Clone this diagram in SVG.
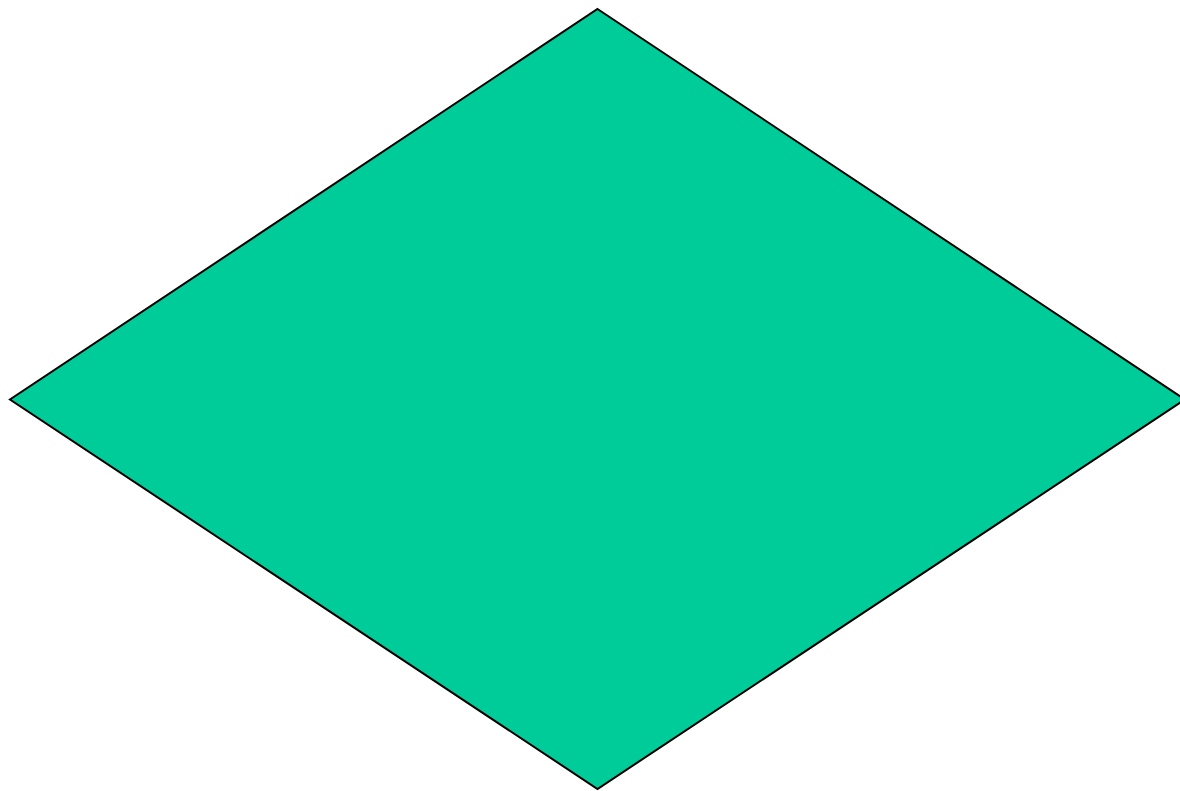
<svg xmlns="http://www.w3.org/2000/svg" width="1180" height="791" viewBox="0 0 1180 791">
<style>.d{fill:#00cc99;stroke:#000;stroke-width:2;stroke-linejoin:miter}</style>
<rect width="1180" height="791" fill="#fff"/>
<g id="diamond">
<polygon class="d" points="597.5,9 1185,399.5 597.5,789 10,399.5"/>
</g>
<g id="connectors"/>
</svg>
